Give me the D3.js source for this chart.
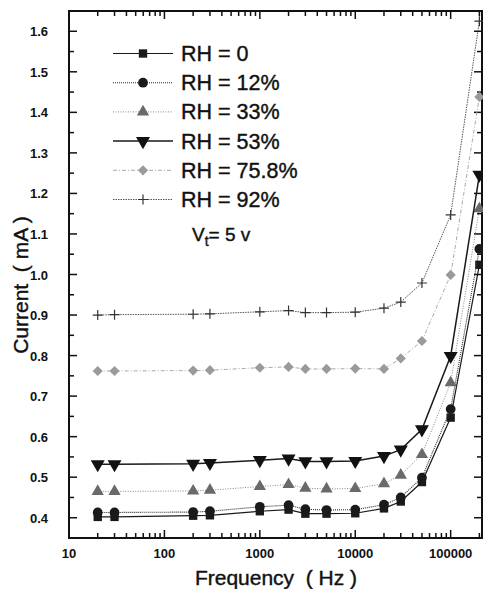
<!DOCTYPE html>
<html>
<head>
<meta charset="utf-8">
<script src="https://cdn.jsdelivr.net/npm/d3@7"></script>
<style>
  body { margin: 0; background: #fff; }
  svg { display: block; font-family: "Liberation Sans", Arial, sans-serif; }
</style>
</head>
<body>
<svg id="chart" width="483" height="589"></svg>
<script>
const freqs = [20, 30, 200, 300, 1000, 2000, 3000, 5000, 10000, 20000, 30000, 50000, 100000, 200000];
const rh0   = [0.402, 0.402, 0.405, 0.406, 0.416, 0.420, 0.410, 0.410, 0.411, 0.423, 0.440, 0.488, 0.647, 1.024];
const rh12  = [0.413, 0.413, 0.414, 0.416, 0.427, 0.431, 0.421, 0.419, 0.420, 0.432, 0.450, 0.499, 0.668, 1.063];
const rh33  = [0.465, 0.465, 0.466, 0.468, 0.477, 0.482, 0.473, 0.471, 0.472, 0.484, 0.505, 0.556, 0.733, 1.162];
const rh53  = [0.532, 0.532, 0.533, 0.535, 0.542, 0.546, 0.539, 0.539, 0.540, 0.552, 0.568, 0.618, 0.799, 1.246];
const rh758 = [0.762, 0.762, 0.763, 0.764, 0.770, 0.772, 0.767, 0.767, 0.768, 0.767, 0.793, 0.836, 0.999, 1.438];
const rh92  = [0.900, 0.901, 0.902, 0.903, 0.908, 0.911, 0.906, 0.906, 0.907, 0.917, 0.932, 0.979, 1.147, 1.625];
const labels = ['RH = 0', 'RH = 12%', 'RH = 33%', 'RH = 53%', 'RH = 75.8%', 'RH = 92%'];
const yTicks = [0.4, 0.5, 0.6, 0.7, 0.8, 0.9, 1.0, 1.1, 1.2, 1.3, 1.4, 1.5, 1.6];
const xTicks = [10, 100, 1000, 10000, 100000];

const series = [
  { name: labels[0], values: rh0,   color: '#1a1a1a', dash: null,      width: 1.2, shape: d3.symbolSquare,   size: 70, mcolor: '#1a1a1a' },
  { name: labels[1], values: rh12,  color: '#2a2a2a', dash: '1,1',     width: 1.1, shape: d3.symbolCircle,   size: 75, mcolor: '#1a1a1a' },
  { name: labels[2], values: rh33,  color: '#888',    dash: '1,1.5',   width: 1.0, shape: d3.symbolTriangle, size: 65, mcolor: '#6a6a6a' },
  { name: labels[3], values: rh53,  color: '#1a1a1a', dash: null,      width: 1.5, shape: 'down',            size: 85, mcolor: '#111' },
  { name: labels[4], values: rh758, color: '#aaa',    dash: '4,2,1,2', width: 1.0, shape: 'diamond',         size: 52, mcolor: '#9a9a9a' },
  { name: labels[5], values: rh92,  color: '#444',    dash: '1.5,1',   width: 0.9, shape: 'plus',            size: 0,  mcolor: '#333' }
];

const svg = d3.select('#chart');
const plotLeft = 69, plotRight = 482, plotTop = 11, plotBottom = 538;

const x = d3.scaleLog().domain([10, 213000]).range([plotLeft, plotRight]);
const y = d3.scaleLinear().domain([0.35, 1.65]).range([plotBottom, plotTop]);

// minor ticks
const xMinor = [];
for (let d = 10; d <= 100000; d *= 10) {
  for (let k = 1; k <= 9; k++) if (d * k <= 213000) xMinor.push(d * k);
}
const yMinor = d3.range(0.35, 1.651, 0.05).map(v => +v.toFixed(2));

const axes = svg.append('g').attr('stroke', '#111');
// bottom & top ticks (inward)
xMinor.forEach(v => {
  const major = xTicks.includes(v);
  const len = major ? 8 : 5;
  axes.append('line').attr('x1', x(v)).attr('x2', x(v)).attr('y1', plotBottom).attr('y2', plotBottom - len).attr('stroke-width', 1.5);
  axes.append('line').attr('x1', x(v)).attr('x2', x(v)).attr('y1', plotTop).attr('y2', plotTop + len).attr('stroke-width', 1.5);
});
// left & right ticks (inward)
yMinor.forEach(v => {
  const major = yTicks.some(t => Math.abs(t - v) < 1e-6);
  const len = major ? 8 : 5;
  axes.append('line').attr('x1', plotLeft).attr('x2', plotLeft + len).attr('y1', y(v)).attr('y2', y(v)).attr('stroke-width', 1.5);
  axes.append('line').attr('x1', plotRight).attr('x2', plotRight - len).attr('y1', y(v)).attr('y2', y(v)).attr('stroke-width', 1.5);
});

svg.append('rect')
  .attr('x', plotLeft).attr('y', plotTop)
  .attr('width', plotRight - plotLeft).attr('height', plotBottom - plotTop)
  .attr('fill', 'none').attr('stroke', '#111').attr('stroke-width', 2);

// tick labels
svg.append('g').selectAll('text').data(yTicks).enter().append('text')
  .attr('x', plotLeft - 21).attr('y', d => y(d) + 5)
  .attr('text-anchor', 'end')
  .attr('font-size', 13).attr('font-weight', 'bold').attr('fill', '#111')
  .text(d => d.toFixed(1));

svg.append('g').selectAll('text').data(xTicks).enter().append('text')
  .attr('x', d => x(d)).attr('y', plotBottom + 20)
  .attr('text-anchor', 'middle')
  .attr('font-size', 13).attr('font-weight', 'bold').attr('fill', '#111')
  .text(d => d3.format('d')(d));

// axis titles
svg.append('text')
  .attr('x', 276).attr('y', 585)
  .attr('text-anchor', 'middle')
  .attr('font-size', 21).attr('fill', '#111')
  .attr('stroke', '#111').attr('stroke-width', 0.4)
  .attr('xml:space', 'preserve')
  .text('Frequency  ( Hz )');

svg.append('text')
  .attr('transform', 'translate(28, 285) rotate(-90)')
  .attr('text-anchor', 'middle')
  .attr('font-size', 21).attr('fill', '#111')
  .attr('stroke', '#111').attr('stroke-width', 0.4)
  .attr('xml:space', 'preserve')
  .text('Current  ( mA )');

function drawMarker(g, s, cx, cy) {
  if (s.shape === 'plus') {
    g.append('path')
      .attr('d', `M${cx - 5},${cy}H${cx + 5}M${cx},${cy - 5}V${cy + 5}`)
      .attr('stroke', s.mcolor).attr('stroke-width', 1.2).attr('fill', 'none');
  } else if (s.shape === 'down') {
    g.append('path')
      .attr('d', d3.symbol().type(d3.symbolTriangle).size(s.size)())
      .attr('transform', `translate(${cx},${cy}) rotate(180)`)
      .attr('fill', s.mcolor);
  } else if (s.shape === 'diamond') {
    g.append('path')
      .attr('d', d3.symbol().type(d3.symbolSquare).size(s.size)())
      .attr('transform', `translate(${cx},${cy}) rotate(45)`)
      .attr('fill', s.mcolor);
  } else {
    g.append('path')
      .attr('d', d3.symbol().type(s.shape).size(s.size)())
      .attr('transform', `translate(${cx},${cy})`)
      .attr('fill', s.mcolor);
  }
}

const line = d3.line()
  .x(d => x(d.f))
  .y(d => y(d.v));

series.forEach(s => {
  const pts = freqs.map((f, i) => ({ f: f, v: s.values[i] }));
  const g = svg.append('g');
  g.append('path')
    .datum(pts)
    .attr('d', line)
    .attr('fill', 'none')
    .attr('stroke', s.color)
    .attr('stroke-width', s.width)
    .attr('stroke-dasharray', s.dash);
  pts.forEach(p => drawMarker(g, s, x(p.f), y(p.v)));
});

// legend
const legend = svg.append('g');
series.forEach((s, i) => {
  const ly = 53.5 + i * 29.2;
  legend.append('line')
    .attr('x1', 113).attr('x2', 173).attr('y1', ly).attr('y2', ly)
    .attr('stroke', s.color).attr('stroke-width', s.width)
    .attr('stroke-dasharray', s.dash);
  drawMarker(legend, s, 143, ly);
  legend.append('text')
    .attr('x', 181).attr('y', ly + 7.5)
    .attr('font-size', 21.5).attr('fill', '#111')
    .attr('stroke', '#111').attr('stroke-width', 0.4)
    .text(s.name);
});

const vt = svg.append('text')
  .attr('x', 192).attr('y', 241)
  .attr('font-size', 19).attr('fill', '#111')
  .attr('stroke', '#111').attr('stroke-width', 0.4);
vt.append('tspan').text('V');
vt.append('tspan').attr('font-size', 14).attr('dy', 5).text('t');
vt.append('tspan').attr('dy', -5).text('= 5 v');
</script>
</body>
</html>
